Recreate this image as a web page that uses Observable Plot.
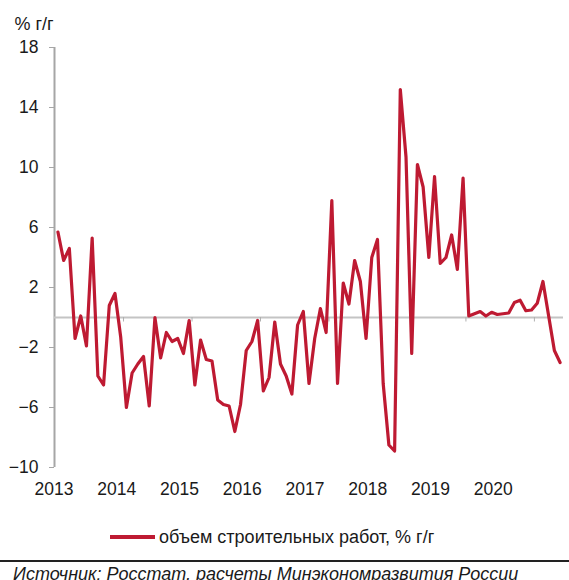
<!DOCTYPE html>
<html>
<head>
<meta charset="utf-8">
<script src="https://cdn.jsdelivr.net/npm/d3@7"></script>
<script src="https://cdn.jsdelivr.net/npm/@observablehq/plot@0.6"></script>
<style>
  html, body { margin: 0; padding: 0; background: #fff; }
  body { width: 569px; height: 580px; overflow: hidden; font-family: "Liberation Sans", Arial, sans-serif; color: #1a1a1a; }
  #chart svg { display: block; }
  .legend { height: 20px; padding-top: 17px; display: flex; align-items: center; font-size: 18px; line-height: 20px; }
  .legend .swatch { display: inline-block; width: 45px; height: 4px; background: #be1a32; margin-left: 110px; margin-right: 4px; }
  .rule { margin-top: 13px; border-top: 2px solid #222; }
  .source { font-style: italic; font-size: 18px; padding-left: 13px; padding-top: 2px; white-space: nowrap; line-height: 20px; }
</style>
</head>
<body>
<div id="chart"></div>
<div class="legend"><span class="swatch"></span><span id="legendText"></span></div>
<div class="rule"></div>
<div class="source" id="source"></div>
<script>
// Monthly values, Jan 2013 .. May 2020, % y/y
const values = [
  5.7, 3.8, 4.6, -1.4, 0.1, -1.9, 5.3, -3.9, -4.5, 0.8, 1.6, -1.3,
  -6.0, -3.7, -3.1, -2.6, -5.9, 0.0, -2.7, -1.0, -1.6, -1.4, -2.4, -0.2,
  -4.5, -1.5, -2.8, -2.9, -5.5, -5.8, -5.9, -7.6, -5.8, -2.2, -1.6, -0.2,
  -4.9, -4.0, -0.3, -3.1, -3.9, -5.1, -0.5, 0.4, -4.4, -1.4, 0.6, -1.0,
  7.8, -4.4, 2.3, 0.9, 3.8, 2.4, -1.4, 4.0, 5.2, -4.4, -8.5, -8.9,
  15.2, 10.7, -2.4, 10.2, 8.7, 4.0, 9.4, 3.6, 4.0, 5.5, 3.2, 9.3,
  0.1, 0.25, 0.4, 0.1, 0.35, 0.2, 0.25, 0.3, 1.0, 1.15, 0.45, 0.5,
  0.95, 2.4, 0.1, -2.2, -3.0
];
const yearLabels = ["2013", "2014", "2015", "2016", "2017", "2018", "2019", "2020"];
const yTicks = [-10, -6, -2, 2, 6, 10, 14, 18];
const seriesName = "объем строительных работ, % г/г";
const unitLabel = "% г/г";
const sourceText = "Источник: Росстат, расчеты Минэкономразвития России";

const data = values.map((v, i) => ({i, v}));
const xDomain = [-0.6, values.length - 0.4];
// year boundaries (between December and January)
const yearBounds = d3.range(12, values.length, 12).map(i => i - 0.5);
// label anchors as placed in the original chart
const labelPos = yearLabels.map((y, k) => k * 11 - 0.7);
const labelMap = new Map(labelPos.map((p, k) => [p, yearLabels[k]]));

const chart = Plot.plot({
  width: 569,
  height: 510,
  marginTop: 47,
  marginBottom: 43,
  marginLeft: 54,
  marginRight: 6,
  x: {domain: xDomain},
  y: {domain: [-10, 18]},
  style: {fontFamily: "'Liberation Sans', Arial, sans-serif", fontSize: "17px", color: "#1a1a1a", background: "#fff"},
  marks: [
    Plot.ruleX([xDomain[0]], {y1: -10, y2: 18, stroke: "#a6a6a6", strokeWidth: 2}),
    Plot.axisY({ticks: yTicks, tickSize: 5, tickPadding: 11, stroke: "#a6a6a6", fill: "#1a1a1a", label: null, fontSize: 17.5}),
    Plot.ruleY([0], {stroke: "#c4c4c4", strokeWidth: 2}),
    Plot.ruleX(yearBounds, {y1: 0, y2: -0.3, stroke: "#b0b0b0", strokeWidth: 1}),
    Plot.line(data, {x: "i", y: "v", stroke: "#be1a32", strokeWidth: 3.2, strokeLinejoin: "round", strokeLinecap: "round"}),
    Plot.axisX({ticks: labelPos, tickFormat: d => labelMap.get(d), tickSize: 0, tickPadding: 15, label: null, fontSize: 17.5}),
    Plot.text([unitLabel], {frameAnchor: "top-left", dx: -40, dy: -23, textAnchor: "start", lineAnchor: "middle", fontSize: 18, fill: "#1a1a1a"})
  ]
});
document.getElementById("chart").append(chart);
document.getElementById("legendText").textContent = seriesName;
document.getElementById("source").textContent = sourceText;
</script>
</body>
</html>
